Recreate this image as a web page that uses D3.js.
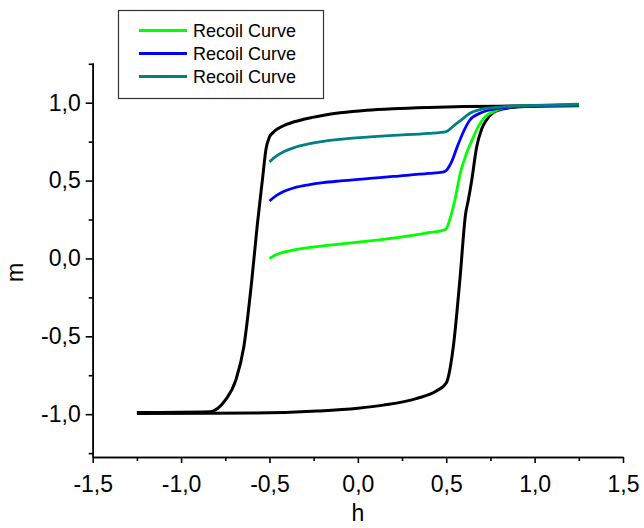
<!DOCTYPE html>
<html>
<head>
<meta charset="utf-8">
<script src="https://cdn.jsdelivr.net/npm/d3@7"></script>
<style>
  body { margin: 0; background: #fff; }
  svg { display: block; font-family: "Liberation Sans", Arial, sans-serif; }
</style>
</head>
<body>
<div id="chart"></div>
<script>
// major loop, ascending branch (h increasing)
const lowerH = [-1.25, -0.6, -0.23, 0.0, 0.144, 0.33, 0.446, 0.5, 0.54, 0.577, 0.61, 0.625, 0.644, 0.672, 0.70, 0.728, 0.77, 0.813, 0.9, 1.0, 1.25];
const lowerM = [-0.995, -0.993, -0.98, -0.962, -0.942, -0.9, -0.85, -0.8, -0.567, -0.14, 0.29, 0.375, 0.5, 0.715, 0.83, 0.89, 0.94, 0.958, 0.972, 0.978, 0.98];
// major loop, descending branch (stored with h increasing)
const upperH = [-1.25, -0.84, -0.75, -0.69, -0.645, -0.60, -0.569, -0.539, -0.52, -0.5, -0.48, -0.45, -0.4, -0.3, -0.2, -0.1, 0.05, 0.2, 0.4, 0.6, 0.8, 1.0, 1.25];
const upperM = [-0.99, -0.985, -0.91, -0.78, -0.567, -0.14, 0.214, 0.514, 0.70, 0.78, 0.808, 0.835, 0.862, 0.895, 0.918, 0.935, 0.952, 0.962, 0.97, 0.975, 0.978, 0.981, 0.983];

// recoil curves
const greenH = [-0.5, -0.46, -0.42, -0.36, -0.28, -0.2, 0.0, 0.2, 0.4, 0.48, 0.5, 0.52, 0.549, 0.58, 0.615, 0.65, 0.681, 0.72, 0.766, 0.84, 0.9, 1.0, 1.25];
const greenM = [0.0, 0.025, 0.04, 0.055, 0.069, 0.08, 0.105, 0.13, 0.165, 0.18, 0.19, 0.25, 0.375, 0.55, 0.675, 0.77, 0.846, 0.91, 0.942, 0.97, 0.978, 0.982, 0.985];
const blueH = [-0.5, -0.46, -0.42, -0.36, -0.28, -0.196, -0.1, 0.068, 0.2, 0.4, 0.48, 0.5, 0.53, 0.56, 0.6, 0.634, 0.7, 0.8, 0.9, 1.0, 1.25];
const blueM = [0.369, 0.405, 0.43, 0.454, 0.473, 0.487, 0.498, 0.514, 0.527, 0.546, 0.555, 0.565, 0.62, 0.71, 0.82, 0.889, 0.937, 0.964, 0.975, 0.98, 0.986];
const tealH = [-0.5, -0.46, -0.42, -0.36, -0.28, -0.196, -0.1, 0.068, 0.2, 0.4, 0.5, 0.54, 0.58, 0.634, 0.7, 0.8, 1.0, 1.25];
const tealM = [0.62, 0.658, 0.685, 0.712, 0.735, 0.752, 0.765, 0.78, 0.79, 0.803, 0.815, 0.85, 0.885, 0.932, 0.958, 0.972, 0.982, 0.99];

const legendLabels = ["Recoil Curve", "Recoil Curve", "Recoil Curve"];
const xTicks = [-1.5, -1.0, -0.5, 0.0, 0.5, 1.0, 1.5];
const xMinor = [-1.25, -0.75, -0.25, 0.25, 0.75, 1.25];
const yTicks = [-1.0, -0.5, 0.0, 0.5, 1.0];
const yMinor = [-1.25, -0.75, -0.25, 0.25, 0.75, 1.25];

const width = 644;
const height = 528;
const margin = { left: 92.7, right: 21, top: 63, bottom: 71 };

const svg = d3.select("#chart")
  .append("svg")
    .attr("width", width)
    .attr("height", height);

const x = d3.scaleLinear().domain([-1.5, 1.5]).range([margin.left, width - margin.right]);
const y = d3.scaleLinear().domain([-1.275, 1.255]).range([height - margin.bottom, margin.top]);

const fmt = d => d3.format(".1f")(d).replace(".", ",").replace("−", "-");

/// axes
svg.append("g")
  .attr("transform", `translate(0,${y.range()[0]})`)
  .call(d3.axisBottom(x).tickValues(xTicks).tickFormat(fmt).tickSize(6).tickSizeOuter(0).tickPadding(13));
svg.append("g")
  .attr("transform", `translate(0,${y.range()[0]})`)
  .call(d3.axisBottom(x).tickValues(xMinor).tickFormat("").tickSize(4).tickSizeOuter(0));

svg.append("g")
  .attr("transform", `translate(${x.range()[0]},0)`)
  .call(d3.axisLeft(y).tickValues(yTicks).tickFormat(fmt).tickSize(7).tickSizeOuter(0).tickPadding(5));
svg.append("g")
  .attr("transform", `translate(${x.range()[0]},0)`)
  .call(d3.axisLeft(y).tickValues(yMinor).tickFormat("").tickSize(4).tickSizeOuter(0));

svg.selectAll(".domain, .tick line")
  .attr("stroke", "#000")
  .attr("stroke-width", 1.6);
svg.selectAll(".tick text")
  .style("font-size", "23px")
  .style("font-family", "Liberation Sans, Arial, sans-serif")
  .attr("fill", "#000");

// axis titles
svg.append("text")
  .attr("x", x(0))
  .attr("y", 521)
  .attr("text-anchor", "middle")
  .style("font-size", "23px")
  .text("h");
svg.append("text")
  .attr("transform", `translate(23,${y(-0.09)}) rotate(-90)`)
  .attr("text-anchor", "middle")
  .style("font-size", "23px")
  .text("m");

/// curves
const line = d3.line()
  .x(d => x(d[0]))
  .y(d => y(d[1]))
  .curve(d3.curveMonotoneX);

const series = [
  { h: lowerH, m: lowerM, color: "#000000", w: 3 },
  { h: upperH, m: upperM, color: "#000000", w: 3 },
  { h: greenH, m: greenM, color: "#00ff00", w: 2.8 },
  { h: blueH, m: blueM, color: "#0000ff", w: 2.8 },
  { h: tealH, m: tealM, color: "#008080", w: 2.8 }
];

svg.append("g")
  .selectAll("path")
  .data(series)
  .join("path")
    .attr("d", s => line(d3.zip(s.h, s.m)))
    .attr("fill", "none")
    .attr("stroke", s => s.color)
    .attr("stroke-width", s => s.w)
    .attr("stroke-linejoin", "round");

/// legend
const legendColors = ["#00ff00", "#0000ff", "#008080"];
const legend = svg.append("g");
legend.append("rect")
  .attr("x", 118.5)
  .attr("y", 10.5)
  .attr("width", 205)
  .attr("height", 88)
  .attr("fill", "#fff")
  .attr("stroke", "#333")
  .attr("stroke-width", 1.2);

const rows = legend.selectAll("g.row")
  .data(legendLabels)
  .join("g")
    .attr("class", "row")
    .attr("transform", (d, i) => `translate(0,${30.5 + i * 23})`);
rows.append("line")
  .attr("x1", 139).attr("x2", 187)
  .attr("stroke", (d, i) => legendColors[i])
  .attr("stroke-width", 3);
rows.append("text")
  .attr("x", 193)
  .attr("y", 6.5)
  .style("font-size", "18px")
  .text(d => d);
</script>
</body>
</html>
